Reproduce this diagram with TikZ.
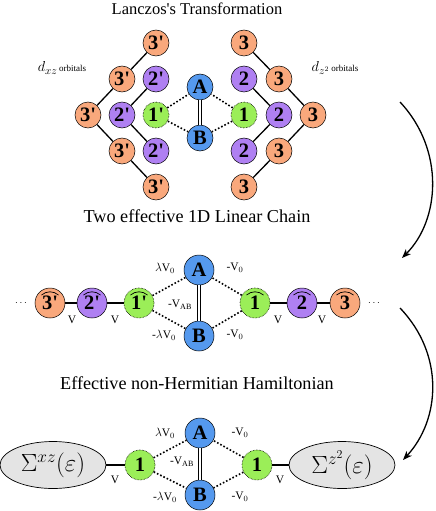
\documentclass[tikz,border=0pt]{standalone}
\usepackage{fontspec}
\setmainfont{Liberation Serif}
\newfontfamily\nf{Liberation Serif}[Ligatures=TeXOff]
\usetikzlibrary{arrows.meta,shapes.geometric}
\definecolor{corange}{HTML}{F9A87C}
\definecolor{cpurple}{HTML}{AF80F2}
\definecolor{cgreen}{HTML}{9BEE58}
\definecolor{cblue}{HTML}{5599EE}
\definecolor{cgray}{HTML}{E4E4E4}
\newcommand{\pr}{\char"27}
\tikzset{
  x=1pt, y=-1pt,
  site/.style={circle, draw=black, line width=0.5pt, inner sep=0pt, minimum size=26pt,
    font=\nf\fontsize{20.5}{20.5}\selectfont\bfseries},
  big/.style={site, minimum size=30pt},
  orn/.style={fill=corange},
  pur/.style={fill=cpurple},
  grn/.style={fill=cgreen, densely dotted, line width=0.7pt},
  blu/.style={fill=cblue},
  hatted/.style={path picture={\draw[line width=0.7pt, solid]
      ([xshift=-8.5pt,yshift=8pt]path picture bounding box.center)
      to[bend left=40] ([xshift=8.5pt,yshift=8pt]path picture bounding box.center);}},
  bond/.style={line width=1.3pt},
  dbond/.style={line width=1.6pt, dotted},
  abbond/.style={double=white, double distance=1.6pt, line width=1.1pt},
  title/.style={font=\nf\fontsize{18.2}{18.2}\selectfont},
  lab/.style={font=\fontsize{11.5}{11.5}\selectfont, inner sep=0pt},
  bigarrow/.style={line width=1.3pt, -{Stealth[length=9pt, width=7pt, inset=2.5pt]}},
  sig/.style={ellipse, draw=black, line width=0.7pt, fill=cgray, minimum width=106pt,
    minimum height=47pt, inner sep=0pt, font=\fontsize{24}{24}\selectfont}
}
\begin{document}
\begin{tikzpicture}
\useasboundingbox (0,0) rectangle (436,511);
% ---------- Top section ----------
\node[title, font=\nf\fontsize{16.5}{16.5}\selectfont] (t1) at (197,9) {Lanczos's Transformation};
\node (dxz) at (62,68) {{\fontsize{15}{15}\selectfont $d_{xz}$}\,{\fontsize{9}{9}\selectfont orbitals}};
\node (dz2) at (335,68) {{\fontsize{15}{15}\selectfont $d_{z^2}$}\,{\fontsize{9}{9}\selectfont orbitals}};

\node[site,orn] (L3a) at (156,43) {3\pr};
\node[site,orn] (L3b) at (122,79) {3\pr};
\node[site,pur] (L2a) at (156,79) {2\pr};
\node[site,orn] (L3c) at (88,115) {3\pr};
\node[site,pur] (L2b) at (122,115) {2\pr};
\node[site,grn] (L1) at (156,115) {1\pr};
\node[site,orn] (L3d) at (122,151) {3\pr};
\node[site,pur] (L2c) at (156,151) {2\pr};
\node[site,orn] (L3e) at (156,187) {3\pr};

\node[site,orn] (R3a) at (244,43) {3};
\node[site,pur] (R2a) at (244,79) {2};
\node[site,orn] (R3b) at (279,79) {3};
\node[site,grn] (R1) at (244,115) {1};
\node[site,pur] (R2b) at (279,115) {2};
\node[site,orn] (R3c) at (313,115) {3};
\node[site,pur] (R2c) at (244,151) {2};
\node[site,orn] (R3d) at (279,151) {3};
\node[site,orn] (R3e) at (244,187) {3};

\node[site,blu] (TA) at (200,87) {A};
\node[site,blu] (TB) at (200,138) {B};

\draw[bond] (L3a) -- (L3b) -- (L3c) -- (L3d) -- (L3e);
\draw[bond] (L2a) -- (L2b) -- (L2c);
\draw[bond] (R3a) -- (R3b) -- (R3c) -- (R3d) -- (R3e);
\draw[bond] (R2a) -- (R2b) -- (R2c);
\draw[dbond] (L1) -- (TA);
\draw[dbond] (L1) -- (TB);
\draw[dbond] (R1) -- (TA);
\draw[dbond] (R1) -- (TB);
\draw[abbond] (TA) -- (TB);

% arrows
\coordinate (a1s) at (400,102);
\coordinate (a1e) at (402,258);
\draw[bigarrow] (a1s) .. controls (445,150) and (440,220) .. (a1e);
\coordinate (a2s) at (400,308);
\coordinate (a2e) at (403,460);
\draw[bigarrow] (a2s) .. controls (445,355) and (440,420) .. (a2e);

% ---------- Middle section ----------
\node[title] (t2) at (197,216) {Two effective 1D Linear Chain};
\node[big,blu] (MA) at (199,270) {A};
\node[big,blu] (MB) at (199,336) {B};
\node[big,orn,hatted] (M3l) at (50,303) {3\pr};
\node[big,pur,hatted] (M2l) at (92,303) {2\pr};
\node[big,grn,hatted] (M1l) at (139,303) {1\pr};
\node[big,grn,hatted] (M1r) at (255,303) {1};
\node[big,pur,hatted] (M2r) at (302,303) {2};
\node[big,orn,hatted] (M3r) at (345,303) {3};
\node (dl) at (21,303) {$\cdots$};
\node (dr) at (374,303) {$\cdots$};
\draw[bond] (M3l) -- (M2l) -- (M1l);
\draw[bond] (M1r) -- (M2r) -- (M3r);
\draw[dbond] (M1l) -- (MA);
\draw[dbond] (M1l) -- (MB);
\draw[dbond] (M1r) -- (MA);
\draw[dbond] (M1r) -- (MB);
\draw[abbond] (MA) -- (MB);
\node[lab] (m1) at (165,268) {$\lambda$V$_0$};
\node[lab] (m2) at (235,268) {-V$_0$};
\node[lab] (m3) at (180,305) {-V$_{\mathrm{AB}}$};
\node[lab] (m4) at (164,335) {-$\lambda$V$_0$};
\node[lab] (m5) at (235,335) {-V$_0$};
\node[lab] (v1) at (72,320) {V};
\node[lab] (v2) at (115,320) {V};
\node[lab] (v3) at (278,320) {V};
\node[lab] (v4) at (322,320) {V};

% ---------- Bottom section ----------
\node[title] (t3) at (197,383) {Effective non-Hermitian Hamiltonian};
\node[big,blu] (BA) at (200,433) {A};
\node[big,blu] (BB) at (200,495) {B};
\node[big,grn] (B1l) at (140,465) {1};
\node[big,grn] (B1r) at (257,465) {1};
\node[sig] (SL) at (53,465) {$\Sigma^{xz}(\varepsilon)$};
\node[sig] (SR) at (342,465) {$\Sigma^{z^2}(\varepsilon)$};
\draw[bond] (SL) -- (B1l);
\draw[bond] (B1r) -- (SR);
\draw[dbond] (B1l) -- (BA);
\draw[dbond] (B1l) -- (BB);
\draw[dbond] (B1r) -- (BA);
\draw[dbond] (B1r) -- (BB);
\draw[abbond] (BA) -- (BB);
\node[lab] (b1) at (165,433) {$\lambda$V$_0$};
\node[lab] (b2) at (240,433) {-V$_0$};
\node[lab] (b3) at (182,462) {-V$_{\mathrm{AB}}$};
\node[lab] (b4) at (165,497) {-$\lambda$V$_0$};
\node[lab] (b5) at (240,497) {-V$_0$};
\node[lab] (v5) at (115,480) {V};
\node[lab] (v6) at (280,480) {V};
\end{tikzpicture}
\end{document}
